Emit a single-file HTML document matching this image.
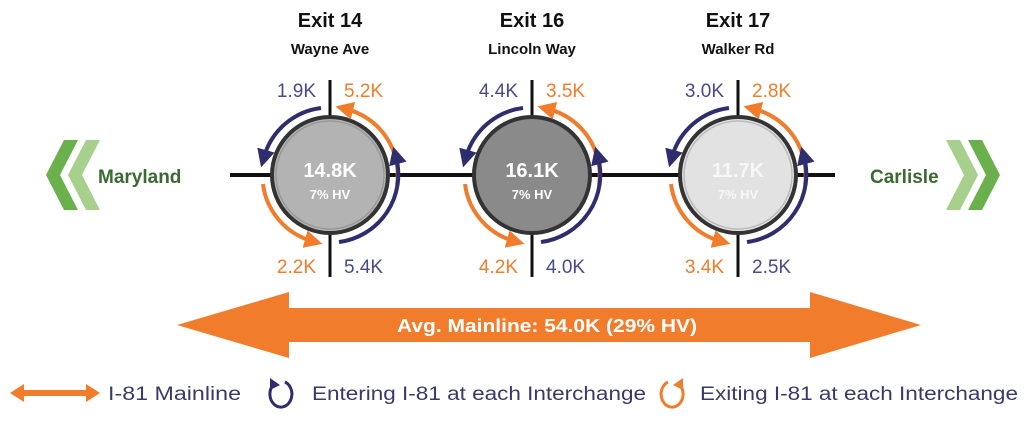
<!DOCTYPE html>
<html><head><meta charset="utf-8"><style>
html,body{margin:0;padding:0;background:#fff;}
svg{display:block;font-family:"Liberation Sans",sans-serif;}
</style></head><body>
<svg width="1024" height="430" viewBox="0 0 1024 430">
<defs>
<marker id="mb" viewBox="0 0 10 10" refX="4" refY="5" markerWidth="4.5" markerHeight="4.5" orient="auto"><path d="M0,0 L10,5 L0,10 z" fill="#2e2e6e"/></marker>
<marker id="mo" viewBox="0 0 10 10" refX="4" refY="5" markerWidth="4.5" markerHeight="4.5" orient="auto"><path d="M0,0 L10,5 L0,10 z" fill="#f07c2c"/></marker>
</defs>
<line x1="230" y1="175" x2="835" y2="175" stroke="#111" stroke-width="4"/>
<polygon points="64,140 78,140 60,175 78,210 64,210 46,175" fill="#6ab04c"/>
<polygon points="86,140 100,140 82,175 100,210 86,210 68,175" fill="#a8d08d"/>
<text x="98" y="183" font-size="19" font-weight="bold" fill="#3a6a32">Maryland</text>
<polygon points="960,140 946,140 964,175 946,210 960,210 978,175" fill="#a8d08d"/>
<polygon points="982,140 968,140 986,175 968,210 982,210 1000,175" fill="#6ab04c"/>
<text x="870" y="183" font-size="19" font-weight="bold" fill="#3a6a32">Carlisle</text>

<g font-weight="bold" text-anchor="middle" fill="#111">
<text x="330" y="27" font-size="20">Exit 14</text>
<text x="330" y="54" font-size="15">Wayne Ave</text>
<text x="532" y="27" font-size="20">Exit 16</text>
<text x="532" y="54" font-size="15">Lincoln Way</text>
<text x="738" y="27" font-size="20">Exit 17</text>
<text x="738" y="54" font-size="15">Walker Rd</text>
</g>

<g>
<line x1="330" y1="80" x2="330" y2="277" stroke="#111" stroke-width="3"/>
<line x1="532" y1="80" x2="532" y2="277" stroke="#111" stroke-width="3"/>
<line x1="738" y1="80" x2="738" y2="277" stroke="#111" stroke-width="3"/>
<circle cx="330" cy="175" r="58" fill="#b3b3b3" stroke="#333" stroke-width="4"/>
<circle cx="330" cy="175" r="54" fill="none" stroke="#999" stroke-width="1.5"/>
<circle cx="532" cy="175" r="58" fill="#8a8a8a" stroke="#333" stroke-width="4"/>
<circle cx="738" cy="175" r="58" fill="#e2e2e2" stroke="#333" stroke-width="4"/>
<circle cx="738" cy="175" r="54" fill="none" stroke="#bbb" stroke-width="1.5"/>
</g>
<g fill="#fff" font-weight="bold" text-anchor="middle">
<text x="330" y="177" font-size="20">14.8K</text><text x="330" y="199" font-size="13">7% HV</text>
<text x="532" y="177" font-size="20">16.1K</text><text x="532" y="199" font-size="13">7% HV</text>
<text x="738" y="177" font-size="20" fill="#f7f7f7">11.7K</text><text x="738" y="199" font-size="13" fill="#f7f7f7">7% HV</text>
</g>

<g fill="none" stroke-width="4">
<g transform="translate(330,175)">
<path d="M-9,-67 A68,68 0 0 0 -66,-18" stroke="#2e2e6e" marker-end="url(#mb)"/>
<path d="M67,10 A68,68 0 0 0 16,-66" stroke="#f07c2c" marker-end="url(#mo)"/>
<path d="M-67,9 A68,68 0 0 0 -18,66" stroke="#f07c2c" marker-end="url(#mo)"/>
<path d="M9,67 A68,68 0 0 0 66,-18" stroke="#2e2e6e" marker-end="url(#mb)"/>
</g>
<g transform="translate(532,175)">
<path d="M-9,-67 A68,68 0 0 0 -66,-18" stroke="#2e2e6e" marker-end="url(#mb)"/>
<path d="M67,10 A68,68 0 0 0 16,-66" stroke="#f07c2c" marker-end="url(#mo)"/>
<path d="M-67,9 A68,68 0 0 0 -18,66" stroke="#f07c2c" marker-end="url(#mo)"/>
<path d="M9,67 A68,68 0 0 0 66,-18" stroke="#2e2e6e" marker-end="url(#mb)"/>
</g>
<g transform="translate(738,175)">
<path d="M-9,-67 A68,68 0 0 0 -66,-18" stroke="#2e2e6e" marker-end="url(#mb)"/>
<path d="M67,10 A68,68 0 0 0 16,-66" stroke="#f07c2c" marker-end="url(#mo)"/>
<path d="M-67,9 A68,68 0 0 0 -18,66" stroke="#f07c2c" marker-end="url(#mo)"/>
<path d="M9,67 A68,68 0 0 0 66,-18" stroke="#2e2e6e" marker-end="url(#mb)"/>
</g>
</g>

<g font-size="19">
<text x="316" y="97" text-anchor="end" fill="#4a4a8a">1.9K</text>
<text x="344" y="97" fill="#f07c2c">5.2K</text>
<text x="316" y="273" text-anchor="end" fill="#f07c2c">2.2K</text>
<text x="344" y="273" fill="#4a4a8a">5.4K</text>
<text x="518" y="97" text-anchor="end" fill="#4a4a8a">4.4K</text>
<text x="546" y="97" fill="#f07c2c">3.5K</text>
<text x="518" y="273" text-anchor="end" fill="#f07c2c">4.2K</text>
<text x="546" y="273" fill="#4a4a8a">4.0K</text>
<text x="724" y="97" text-anchor="end" fill="#4a4a8a">3.0K</text>
<text x="752" y="97" fill="#f07c2c">2.8K</text>
<text x="724" y="273" text-anchor="end" fill="#f07c2c">3.4K</text>
<text x="752" y="273" fill="#4a4a8a">2.5K</text>
</g>

<polygon points="177,325 289,292 289,308 810,308 810,292 921,325 810,358 810,342 289,342 289,358" fill="#f07c2c"/>
<text x="547" y="332" font-size="18" font-weight="bold" fill="#fff" text-anchor="middle" textLength="300" lengthAdjust="spacingAndGlyphs">Avg. Mainline: 54.0K (29% HV)</text>

<polygon points="10,393 24,384 24,390 86,390 86,384 100,393 86,402 86,396 24,396 24,402" fill="#f07c2c"/>
<text x="108" y="400" font-size="19" fill="#3a3a6a" textLength="133" lengthAdjust="spacingAndGlyphs">I-81 Mainline</text>
<path d="M285,382 A11,13 0 1 1 273,385" fill="none" stroke="#2e2e6e" stroke-width="3"/>
<polygon points="270,378 280,385 270,390" fill="#2e2e6e"/>
<text x="312" y="400" font-size="19" fill="#3a3a6a" textLength="334" lengthAdjust="spacingAndGlyphs">Entering I-81 at each Interchange</text>
<path d="M668,382 A11,13 0 1 0 680,385" fill="none" stroke="#f07c2c" stroke-width="3"/>
<polygon points="683,378 673,385 683,390" fill="#f07c2c"/>
<text x="700" y="400" font-size="19" fill="#3a3a6a" textLength="318" lengthAdjust="spacingAndGlyphs">Exiting I-81 at each Interchange</text>
</svg>
</body></html>
